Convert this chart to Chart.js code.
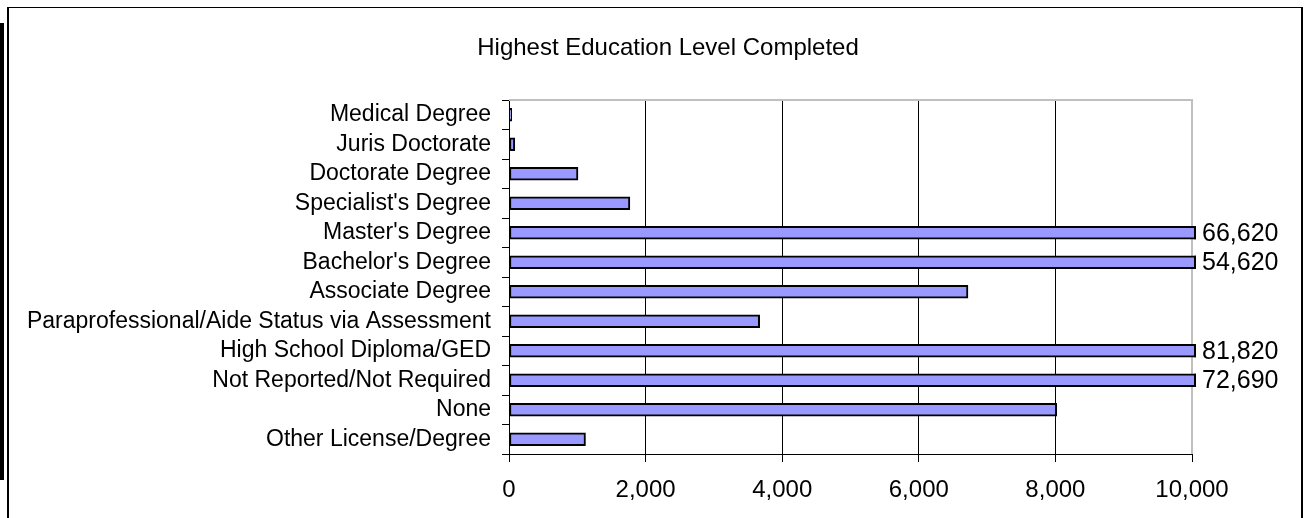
<!DOCTYPE html>
<html><head><meta charset="utf-8">
<script src="https://cdn.jsdelivr.net/npm/chart.js@4.4.1/dist/chart.umd.min.js"></script>
<style>
html,body{margin:0;padding:0;background:#fff;width:1311px;height:518px;overflow:hidden;position:relative;}
#frame{position:absolute;left:7px;top:7px;width:1296px;height:600px;box-sizing:border-box;border-left:2px solid #000;border-top:1px solid #000;border-right:2px solid #000;}
#band{position:absolute;left:0;top:23px;width:4px;height:457px;background:#000;}
#c{position:absolute;left:0;top:0;}
#title{position:absolute;left:368px;width:600px;top:33px;height:28px;line-height:28px;text-align:center;font-family:'Liberation Sans',Arial,sans-serif;font-size:24px;color:#000;white-space:nowrap;}
</style></head><body>
<div id="frame"></div><div id="band"></div>
<canvas id="c" width="1311" height="518"></canvas>
<div id="title"></div>
<script>
const chartTitle = 'Highest Education Level Completed';
const categories = [
  'Medical Degree',
  'Juris Doctorate',
  'Doctorate Degree',
  "Specialist's Degree",
  "Master's Degree",
  "Bachelor's Degree",
  'Associate Degree',
  'Paraprofessional/Aide Status via Assessment',
  'High School Diploma/GED',
  'Not Reported/Not Required',
  'None',
  'Other License/Degree'
];
const values = [40, 85, 1010, 1770, 66620, 54620, 6720, 3670, 81820, 72690, 8020, 1120];
const xMin = 0;
const xMax = 10000;
const xStep = 2000;

document.getElementById('title').textContent = chartTitle;

const FONT = "'Liberation Sans', Arial, sans-serif";
const fmt = v => Number(v).toLocaleString('en-US');

const plotFrame = {
  id: 'plotFrame',
  beforeDatasetsDraw(chart) {
    const {ctx, chartArea: a} = chart;
    ctx.save();
    ctx.strokeStyle = '#c0c0c0';
    ctx.lineWidth = 2;
    ctx.beginPath();
    ctx.moveTo(a.left, a.top);
    ctx.lineTo(a.right, a.top);
    ctx.lineTo(a.right, a.bottom);
    ctx.stroke();
    ctx.restore();
  }
};

const overflowLabels = {
  id: 'overflowLabels',
  afterDatasetsDraw(chart) {
    const {ctx, chartArea: a} = chart;
    const meta = chart.getDatasetMeta(0);
    const data = chart.data.datasets[0].data;
    const max = chart.scales.x.max;
    ctx.save();
    meta.data.forEach((bar, i) => {
      if (data[i] > max) {
        const h = bar.height;
        ctx.fillStyle = '#000';
        ctx.fillRect(a.right + 2, bar.y - h / 2, 2, h);
        ctx.font = '25px ' + FONT;
        ctx.textAlign = 'left';
        ctx.textBaseline = 'middle';
        ctx.fillText(fmt(data[i]), a.right + 10, bar.y + 1);
      }
    });
    ctx.restore();
  }
};

new Chart(document.getElementById('c'), {
  type: 'bar',
  data: {
    labels: categories,
    datasets: [{
      data: values,
      backgroundColor: '#9999ff',
      borderColor: '#000',
      borderWidth: 2,
      borderSkipped: false,
      barThickness: 13,
      clip: {left: 2, top: 0, right: 4, bottom: 0}
    }]
  },
  options: {
    indexAxis: 'y',
    responsive: false,
    devicePixelRatio: 1,
    animation: false,
    locale: 'en-US',
    layout: {padding: {left: 0, right: 119, top: 100, bottom: 0}},
    plugins: {
      legend: {display: false},
      tooltip: {enabled: false},
      title: {display: false}
    },
    scales: {
      x: {
        type: 'linear',
        min: xMin,
        max: xMax,
        ticks: {
          stepSize: xStep,
          color: '#000',
          font: {family: FONT, size: 24},
          padding: 14,
          callback: v => fmt(v)
        },
        grid: {
          color: c => (c.tick && c.tick.value === xMax) ? 'rgba(0,0,0,0)' : '#000',
          lineWidth: 1,
          tickColor: '#000',
          tickLength: 8,
          drawTicks: true
        },
        border: {display: true, color: '#000', width: 1},
        afterFit: s => { s.height = 64; }
      },
      y: {
        type: 'category',
        offset: true,
        ticks: {
          color: '#000',
          font: {family: FONT, size: 23},
          padding: 11,
          autoSkip: false
        },
        grid: {
          offset: true,
          drawOnChartArea: false,
          drawTicks: true,
          tickLength: 7,
          tickColor: '#000',
          color: '#000'
        },
        border: {display: true, color: '#000', width: 1},
        afterFit: s => { s.width = 509; }
      }
    }
  },
  plugins: [plotFrame, overflowLabels]
});
</script>
</body></html>
